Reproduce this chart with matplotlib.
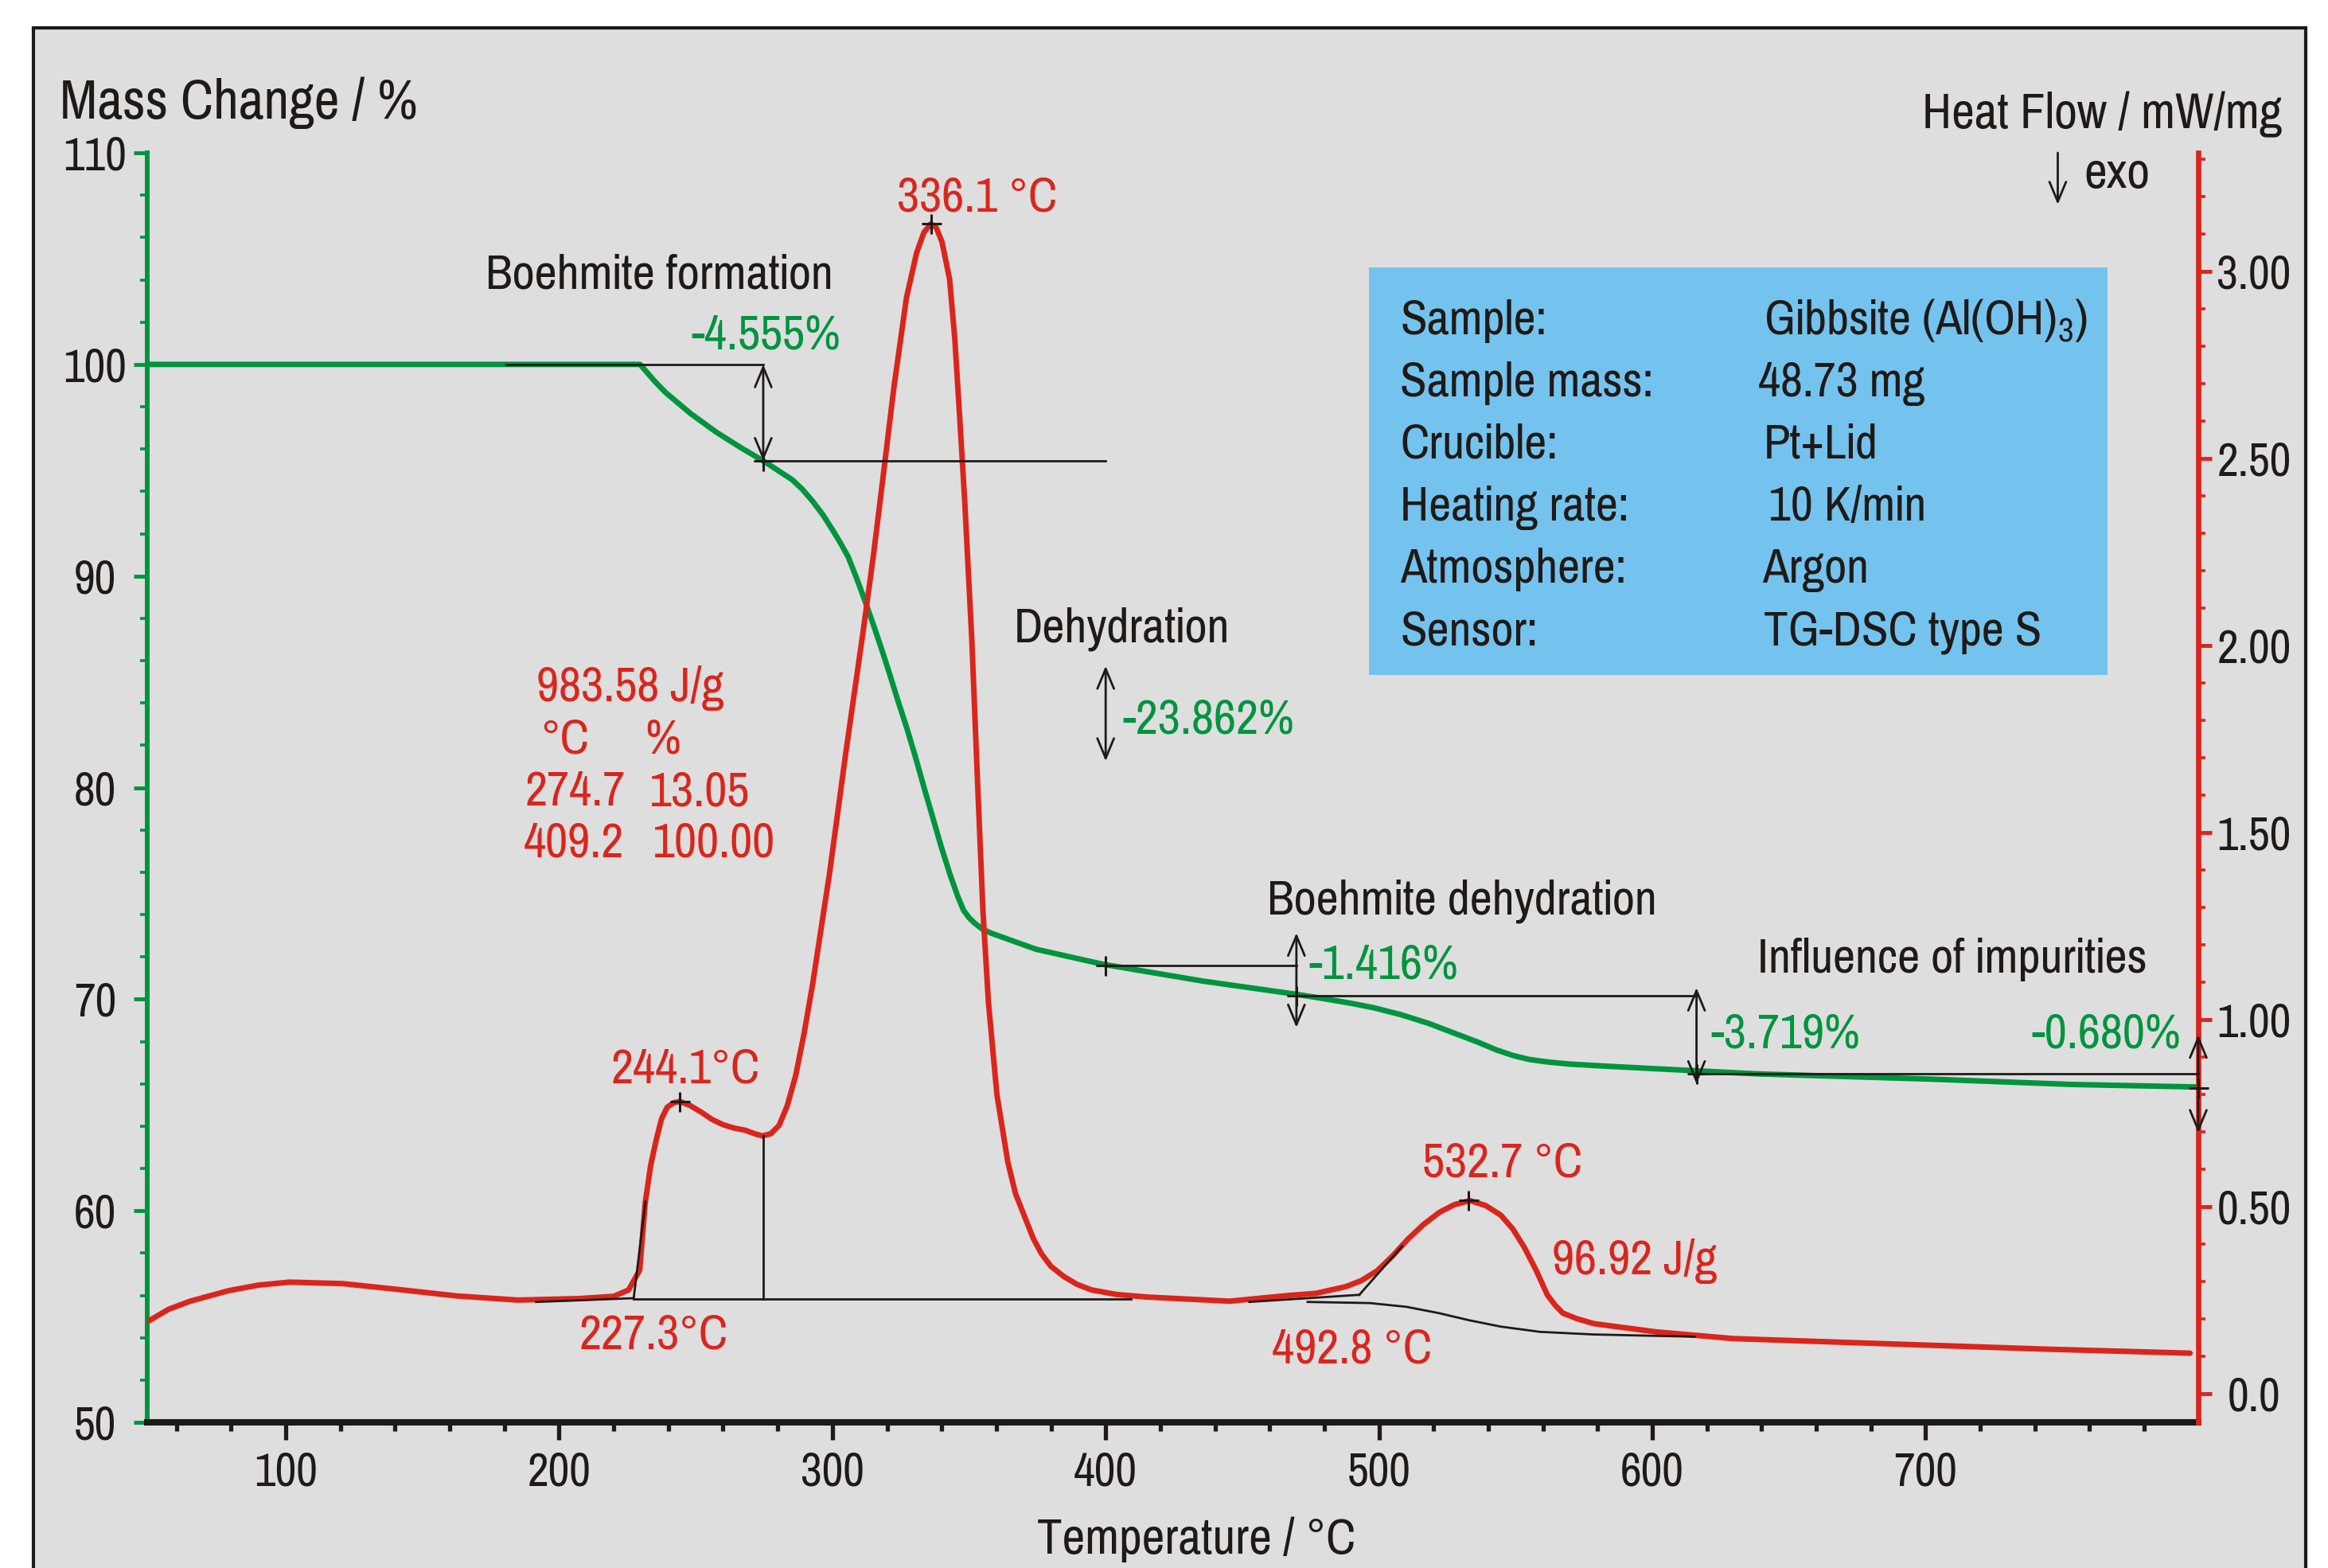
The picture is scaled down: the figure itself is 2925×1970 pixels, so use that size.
import matplotlib
matplotlib.use("Agg")
import matplotlib.pyplot as plt
from matplotlib import font_manager as fm
from matplotlib.font_manager import FontProperties
from matplotlib.patches import Rectangle, FancyArrowPatch

# ---------------- data ----------------
temp_tg = [49.3, 100, 150, 200, 229.6, 232.0, 235.0, 238.9, 248.2, 257.5, 266.7, 275.1,
           285.3, 289.0, 292.8, 296.5, 300.2, 303.0, 305.8, 309.0, 312.0, 315.0, 318.0,
           321.0, 324.0, 327.4, 330.5, 333.5, 336.7, 339.8, 342.9, 345.9, 348.0, 350.0,
           352.0, 355.0, 358.1, 365.0, 374.5, 399.0, 435.8, 469.8, 480.0, 490.0, 497.9,
           508.0, 518.3, 527.0, 536.2, 543.0, 549.0, 555.0, 561.8, 570.0, 585.0, 600.1,
           638.4, 702.2, 753.3, 799.3]
mass_tg = [100, 100, 100, 100, 100, 99.65, 99.2, 98.68, 97.67, 96.8, 96.05, 95.41,
           94.55, 94.1, 93.53, 92.9, 92.15, 91.55, 90.9, 89.85, 88.8, 87.7, 86.55,
           85.35, 84.1, 82.75, 81.4, 80.02, 78.6, 77.22, 75.95, 74.85, 74.2, 73.85,
           73.6, 73.3, 73.12, 72.8, 72.36, 71.65, 70.85, 70.23, 70.02, 69.8, 69.6,
           69.27, 68.85, 68.42, 67.97, 67.6, 67.34, 67.15, 67.03, 66.93, 66.82, 66.72,
           66.47, 66.22, 65.97, 65.85]

temp_dsc = [49.8, 57, 65, 79, 90, 101.3, 120.8, 140.3, 162.6, 184.9, 207.2, 220.0, 225.4,
            229.5, 231.5, 233.5, 235.6, 237.5, 239.6, 242.0, 244.3, 248.0, 251.9, 256.0,
            260.0, 264.0, 268.2, 271.5, 274.4, 277.5, 280.5, 283.5, 286.6, 289.7, 292.8,
            298.9, 305.0, 311.1, 315.0, 318.7, 322.5, 327.1, 330.8, 333.5, 336.0, 338.0,
            340.1, 342.9, 344.8, 346.6, 348.4, 351.0, 353.0, 355.1, 357.1, 360.2, 364.2,
            367.0, 370.4, 373.5, 376.5, 380.0, 384.7, 389.5, 394.9, 404.0, 415.3, 445.4,
            466.4, 477.0, 487.9, 493.5, 499.3, 505.0, 510.6, 516.3, 522.0, 527.5, 533.3,
            539.0, 544.6, 549.0, 553.1, 557.5, 561.6, 564.5, 567.3, 572.5, 578.6, 601.3,
            629.6, 686.3, 742.9, 796.8]
heat_dsc = [0.194, 0.225, 0.247, 0.275, 0.290, 0.298, 0.294, 0.279, 0.261, 0.250, 0.254,
            0.260, 0.277, 0.330, 0.509, 0.610, 0.680, 0.735, 0.766, 0.778, 0.781, 0.770,
            0.753, 0.733, 0.719, 0.710, 0.704, 0.695, 0.689, 0.695, 0.717, 0.770, 0.851,
            0.965, 1.096, 1.388, 1.718, 2.030, 2.240, 2.460, 2.690, 2.930, 3.050, 3.105,
            3.128, 3.118, 3.080, 2.980, 2.820, 2.610, 2.390, 2.020, 1.657, 1.290, 1.047,
            0.800, 0.619, 0.535, 0.472, 0.415, 0.374, 0.340, 0.313, 0.292, 0.277, 0.265,
            0.258, 0.247, 0.262, 0.268, 0.286, 0.302, 0.328, 0.368, 0.413, 0.452, 0.484,
            0.505, 0.516, 0.503, 0.477, 0.440, 0.392, 0.330, 0.264, 0.236, 0.215, 0.200,
            0.187, 0.165, 0.147, 0.133, 0.119, 0.108]

x_major = [100, 200, 300, 400, 500, 600, 700]
x_minor = [60, 80, 120, 140, 160, 180, 220, 240, 260, 280, 320, 340, 360, 380, 420, 440,
           460, 480, 520, 540, 560, 580, 620, 640, 660, 680, 720, 740, 760, 780]
mass_major = [50, 60, 70, 80, 90, 100, 110]
mass_minor = [52, 54, 56, 58, 62, 64, 66, 68, 72, 74, 76, 78, 82, 84, 86, 88, 92, 94,
              96, 98, 102, 104, 106, 108]
heat_major = [0.0, 0.5, 1.0, 1.5, 2.0, 2.5, 3.0]
heat_major_labels = ["0.0", "0.50", "1.00", "1.50", "2.00", "2.50", "3.00"]
heat_minor = [0.1, 0.2, 0.3, 0.4, 0.6, 0.7, 0.8, 0.9, 1.1, 1.2, 1.3, 1.4, 1.6, 1.7, 1.8,
              1.9, 2.1, 2.2, 2.3, 2.4, 2.6, 2.7, 2.8, 2.9, 3.1, 3.2, 3.3]

step_labels = ["-4.555%", "-23.862%", "-1.416%", "-3.719%", "-0.680%"]
peak_temps = [244.1, 336.1, 532.7]
peak_heat = [0.781, 3.128, 0.516]

info_keys = ["Sample:", "Sample mass:", "Crucible:", "Heating rate:", "Atmosphere:", "Sensor:"]
info_vals = ["Gibbsite (Al(OH)$_3$)", "48.73 mg", "Pt+Lid", "10 K/min", "Argon",
             "TG-DSC type S"]

# ---------------- fonts ----------------
names = {f.name for f in fm.fontManager.ttflist}
cands = ["Nimbus Sans Narrow", "Liberation Sans Narrow", "Arial Narrow", "Pragati Narrow",
         "Archivo Narrow", "PT Sans Narrow", "Roboto Condensed", "IBM Plex Sans Condensed",
         "Fira Sans Condensed", "Open Sans Condensed", "Barlow Semi Condensed"]
avail = [c for c in cands if c in names]
BASE = "Liberation Sans" if "Liberation Sans" in names else "DejaVu Sans"
FAM = avail[0] if avail else BASE
SAMPLE = "0123456789 Sample mass Boehmite formation"


def text_width(family):
    path = fm.findfont(FontProperties(family=family))
    f = fm.get_font(path)
    f.set_size(100, 72)
    f.set_text(SAMPLE, 0.0)
    return f.get_width_height()[0] / 64.0


try:
    WF = text_width(BASE) / text_width(FAM)
except Exception:
    FAM, WF = BASE, 1.0

plt.rcParams["font.family"] = [FAM, "DejaVu Sans"]
plt.rcParams["mathtext.fontset"] = "custom"
plt.rcParams["mathtext.rm"] = FAM
plt.rcParams["mathtext.it"] = FAM
plt.rcParams["mathtext.bf"] = FAM

DPI = 100
W, H = 2925, 1970


def fs(u):
    return u * WF * 72 / DPI


GREEN = "#00943F"
RED = "#DA251D"
BLACK = "#1F1A17"
GREY = "#DEDEDE"
BLUE = "#74C3EE"

TICK_FS = fs(48)
LAB_FS = fs(51.5)
ANN_FS = fs(50.5)
BOX_FS = fs(50.3)

fig = plt.figure(figsize=(W / DPI, H / DPI), dpi=DPI)
fig.patch.set_facecolor("white")
panel = Rectangle((42 / W, -0.05), (2897 - 42) / W, (1 - 35 / H) + 0.05,
                  transform=fig.transFigure, facecolor=GREY, edgecolor=BLACK,
                  lw=3.0, zorder=0)
fig.add_artist(panel)

ax = fig.add_axes([185 / W, 1 - 1787 / H, (2762 - 185) / W, (1787 - 192) / H])
ax.set_facecolor("none")
ax2 = ax.twinx()
ax2.set_facecolor("none")

# curves
ax.plot(temp_tg, mass_tg, color=GREEN, lw=5.0, solid_joinstyle="round",
        solid_capstyle="round", zorder=2)
ax2.plot(temp_dsc, heat_dsc, color=RED, lw=5.0, solid_joinstyle="round",
         solid_capstyle="round", zorder=2)

# limits / ticks
ax.set_xlim(49.3, 799.8)
ax.set_ylim(50, 110)
ax2.set_ylim(-0.077, 3.318)

ax.set_xticks(x_major)
ax.set_xticks(x_minor, minor=True)
ax.set_yticks(mass_major)
ax.set_yticks(mass_minor, minor=True)
ax2.set_yticks(heat_major)
ax2.set_yticklabels(heat_major_labels)
ax2.set_yticks(heat_minor, minor=True)

for s in ["top", "right"]:
    ax.spines[s].set_visible(False)
ax.spines["left"].set_color(GREEN)
ax.spines["left"].set_linewidth(4.3)
ax.spines["bottom"].set_color(BLACK)
ax.spines["bottom"].set_linewidth(5.8)
for s in ["top", "left", "bottom"]:
    ax2.spines[s].set_visible(False)
ax2.spines["right"].set_color(RED)
ax2.spines["right"].set_linewidth(4.8)

ax.tick_params(axis="x", which="major", direction="out", length=16, width=3.8,
               color=BLACK, pad=10, labelsize=TICK_FS, labelcolor=BLACK)
ax.tick_params(axis="x", which="minor", direction="out", length=8, width=3.8, color=BLACK)
ax.tick_params(axis="y", which="major", direction="out", length=12.2, width=3.5,
               color=GREEN, pad=34.9, labelsize=TICK_FS, labelcolor=BLACK)
ax.tick_params(axis="y", which="minor", direction="out", length=6.5, width=2.6, color=GREEN)
ax2.tick_params(axis="y", which="major", direction="out", length=12.2, width=3.5,
                color=RED, pad=38.2, labelsize=TICK_FS, labelcolor=BLACK)
ax2.tick_params(axis="y", which="minor", direction="out", length=6.5, width=2.6, color=RED)
for lab in ax.get_yticklabels():
    lab.set_horizontalalignment("center")
for lab in ax2.get_yticklabels():
    lab.set_horizontalalignment("center")

ax.set_xlabel("Temperature / °C", fontsize=LAB_FS, color=BLACK)
ax.xaxis.set_label_coords(0.5117, -0.074)
ax.xaxis.label.set_verticalalignment("top")

ax.text(-0.0427, 1.027, "Mass Change / %", transform=ax.transAxes, fontsize=fs(57),
        color=BLACK, ha="left", va="baseline")
ax.text(1.0408, 1.0194, "Heat Flow / mW/mg", transform=ax.transAxes, fontsize=LAB_FS,
        color=BLACK, ha="right", va="baseline")
ax.text(0.9441, 0.9724, "exo", transform=ax.transAxes, fontsize=LAB_FS,
        color=BLACK, ha="left", va="baseline")
exo_arrow = FancyArrowPatch((0.9315, 1.0), (0.9315, 0.9592), transform=ax.transAxes,
                            arrowstyle="->,head_length=0.6,head_width=0.25",
                            mutation_scale=30, lw=2.0, color=BLACK, shrinkA=0, shrinkB=0,
                            clip_on=False)
ax.add_patch(exo_arrow)

# info box
ax.add_patch(Rectangle((0.5957, 0.5887), 0.3601, 0.3210, transform=ax.transAxes,
                       facecolor=BLUE, edgecolor="none", zorder=1))
row_y = [0.8571, 0.8082, 0.7593, 0.7103, 0.6614, 0.6125]
val_x = [0.7881, 0.7854, 0.7881, 0.7905, 0.7873, 0.7881]
for k, v, y, vx in zip(info_keys, info_vals, row_y, val_x):
    ax.text(0.6108, y, k, transform=ax.transAxes, fontsize=BOX_FS, color=BLACK,
            ha="left", va="baseline", zorder=3)
    ax.text(vx, y, v, transform=ax.transAxes, fontsize=BOX_FS, color=BLACK,
            ha="left", va="baseline", zorder=3)

# ---------- TG annotations (drawn on top, in mass coordinates) ----------
tgT = ax.transData
LW = 2.0


def tg_line(xs, ys):
    ax2.plot(xs, ys, color=BLACK, lw=LW, transform=tgT, zorder=4, clip_on=False)


def tg_arrow(x, y0, y1):
    a = FancyArrowPatch((x, y0), (x, y1), transform=tgT,
                        arrowstyle="<->,head_length=0.6,head_width=0.25",
                        mutation_scale=30, lw=LW, color=BLACK, shrinkA=0, shrinkB=0,
                        zorder=4, clip_on=False)
    ax2.add_patch(a)


tg_line([180.7, 274.7], [100.0, 100.0])
tg_arrow(274.7, 100.0, 95.445)
tg_line([274.7, 400.0], [95.445, 95.445])
tg_arrow(400.0, 85.75, 81.25)
tg_line([400.0, 469.8], [71.58, 71.58])
tg_arrow(469.8, 73.13, 68.66)
tg_line([469.8, 616.2], [70.17, 70.17])
tg_arrow(616.2, 70.54, 65.99)
tg_line([616.2, 799.8], [66.48, 66.48])
tg_arrow(799.8, 68.31, 63.68)
ax2.plot([274.7, 400.0, 469.8, 616.2, 799.8], [95.445, 71.58, 70.17, 66.48, 65.80], "+",
         ms=18, mew=2.2, color=BLACK, transform=tgT, zorder=5, clip_on=False)

tg_text = [(173.1, 103.6, "Boehmite formation", BLACK),
           (366.4, 86.9, "Dehydration", BLACK),
           (459.1, 74.03, "Boehmite dehydration", BLACK),
           (638.4, 71.26, "Influence of impurities", BLACK),
           (248.2, 100.71, step_labels[0], GREEN),
           (406.1, 82.55, step_labels[1], GREEN),
           (474.4, 70.99, step_labels[2], GREEN),
           (621.3, 67.71, step_labels[3], GREEN),
           (738.8, 67.71, step_labels[4], GREEN)]
for x, y, s, c in tg_text:
    ax2.text(x, y, s, transform=tgT, fontsize=ANN_FS, color=c, ha="left",
             va="baseline", zorder=6)


# ---------- DSC annotations ----------
def dsc_line(xs, ys):
    ax2.plot(xs, ys, color=BLACK, lw=LW, zorder=4)


dsc_line([191.6, 227.3], [0.245, 0.255])
dsc_line([227.3, 409.2], [0.2525, 0.2525])
dsc_line([227.3, 231.6], [0.255, 0.513])
dsc_line([274.7, 274.7], [0.2525, 0.689])
dsc_line([452.6, 492.8], [0.245, 0.264])
dsc_line([492.8, 508.5], [0.264, 0.394])
dsc_line([473.9, 496.6, 510.0, 522.0, 533.0, 544.6, 558.9, 578.6, 615.5],
         [0.245, 0.242, 0.232, 0.215, 0.196, 0.179, 0.165, 0.158, 0.152])
ax2.plot(peak_temps, peak_heat, "+", ms=18, mew=2.2, color=BLACK, zorder=5)

dsc_text = [(323.6, 3.162, "336.1 °C"),
            (191.6, 1.851, "983.58 J/g"),
            (193.1, 1.713, "°C"),
            (231.3, 1.713, "%"),
            (187.5, 1.572, "274.7"),
            (233.1, 1.572, "13.05"),
            (186.9, 1.435, "409.2"),
            (234.1, 1.435, "100.00"),
            (219.1, 0.830, "244.1°C"),
            (207.2, 0.119, "227.3°C"),
            (515.8, 0.579, "532.7 °C"),
            (563.2, 0.318, "96.92 J/g"),
            (460.7, 0.081, "492.8 °C")]
for x, y, s in dsc_text:
    ax2.text(x, y, s, fontsize=ANN_FS, color=RED, ha="left", va="baseline", zorder=6)

fig.savefig("out.png", dpi=DPI, facecolor="white")
